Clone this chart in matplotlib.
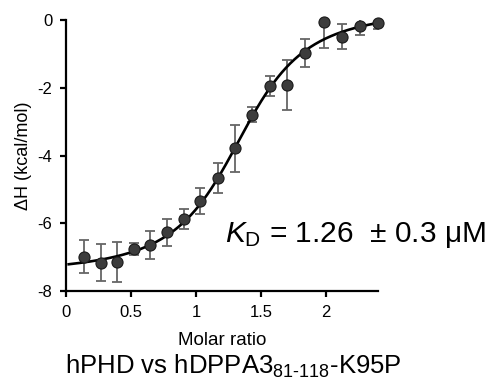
import numpy as np
import matplotlib
matplotlib.use('Agg')
import matplotlib.pyplot as plt

plt.rcParams['font.family'] = ['Liberation Sans', 'DejaVu Sans']
plt.rcParams['mathtext.fontset'] = 'custom'
plt.rcParams['mathtext.rm'] = 'Liberation Sans'
plt.rcParams['mathtext.it'] = 'Liberation Sans:italic'
plt.rcParams['axes.unicode_minus'] = False

# integrated heats
molar_ratio = [0.138, 0.27, 0.395, 0.52, 0.646, 0.775, 0.905, 1.03, 1.167,
               1.30, 1.43, 1.57, 1.70, 1.84, 1.98, 2.12, 2.26, 2.40]
dH = [-6.98, -7.16, -7.14, -6.76, -6.65, -6.27, -5.88, -5.34, -4.66,
      -3.79, -2.79, -1.95, -1.92, -0.98, -0.07, -0.49, -0.18, -0.08]
dH_err = [0.50, 0.54, 0.60, 0.17, 0.41, 0.40, 0.30, 0.38, 0.45,
          0.69, 0.23, 0.30, 0.75, 0.42, 0.75, 0.37, 0.25, 0.18]

# one-site fit parameters
fit_n = 1.38
fit_r = 0.04      # Kd / [M]
fit_dH = -7.87
fit_offset = 0.35

xs = np.linspace(0.02, 2.40, 300)
xr = xs / fit_n
frac = 0.5 + (1 - xr - fit_r) / (2 * np.sqrt((1 + xr + fit_r) ** 2 - 4 * xr))
fit_curve = fit_dH * frac + fit_offset

fig = plt.figure(figsize=(4.97, 3.85), dpi=100)
ax = fig.add_axes([0.133, 0.244, 0.628, 0.704])

ax.errorbar(molar_ratio, dH, yerr=dH_err, fmt='none', ecolor='#666666',
            elinewidth=1.3, capsize=3.5, capthick=1.3, zorder=2)
ax.plot(xs, fit_curve, color='black', lw=1.9, zorder=3)
ax.plot(molar_ratio, dH, 'o', ms=8, mfc='#3c3c3c', mec='#1a1a1a', mew=0.8,
        zorder=4, clip_on=False)

ax.set_xlim(0, 2.4)
ax.set_ylim(-8, 0)
ax.set_xticks([0, 0.5, 1, 1.5, 2])
ax.set_xticklabels(['0', '0.5', '1', '1.5', '2'])
ax.set_yticks([0, -2, -4, -6, -8])
for s in ['top', 'right']:
    ax.spines[s].set_visible(False)
for s in ['left', 'bottom']:
    ax.spines[s].set_linewidth(1.6)
ax.tick_params(direction='out', length=4, width=1.6, labelsize=12, pad=6)

ax.set_xlabel('Molar ratio', fontsize=13.5, labelpad=9)
ax.set_ylabel('ΔH (kcal/mol)', fontsize=13, labelpad=4)

ax.text(0.51, 0.205, r'$K_\mathregular{D}$ = 1.26  $\pm$ 0.3 μM', transform=ax.transAxes,
        fontsize=21.5, va='center', ha='left')

fig.text(0.47, 0.012, r'hPHD vs hDPPA3$_\mathregular{81\text{-}118}$-K95P', fontsize=18.5,
         ha='center', va='bottom')

fig.savefig('out.png', dpi=100)
